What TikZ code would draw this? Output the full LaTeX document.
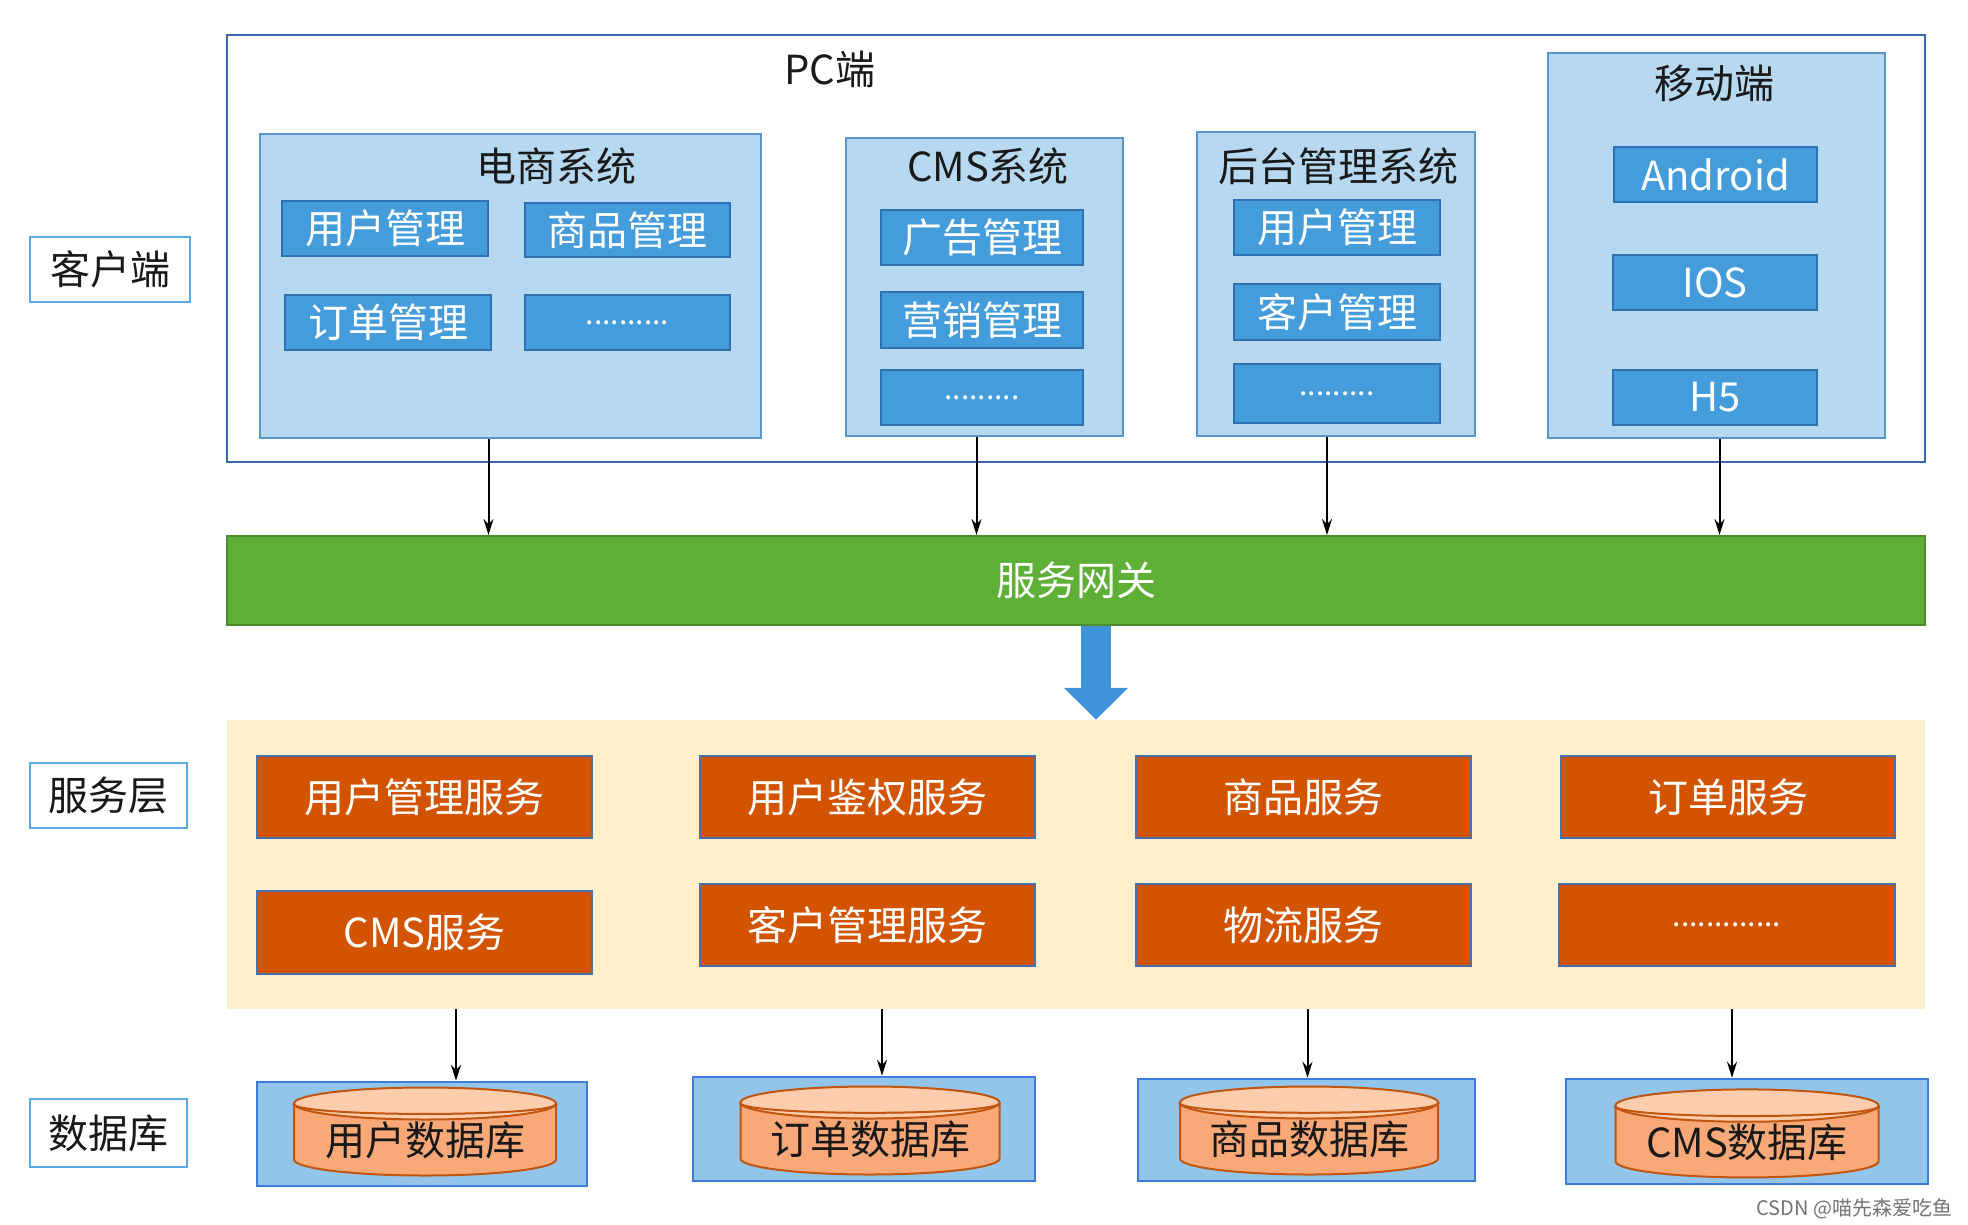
\documentclass[tikz,border=0pt]{standalone}
\usepackage{fontspec}
\setmainfont{Noto Sans CJK SC}
\usetikzlibrary{positioning, arrows.meta, calc, fit, shapes.geometric}

\definecolor{pcline}{HTML}{3C66B1}
\definecolor{labelline}{HTML}{5CA8E1}
\definecolor{panelfill}{HTML}{B6D8F1}
\definecolor{panelline}{HTML}{5B95CF}
\definecolor{modulefill}{HTML}{449CDB}
\definecolor{moduleline}{HTML}{2F72B2}
\definecolor{gatewayfill}{HTML}{5EAF36}
\definecolor{gatewayline}{HTML}{4C8C2C}
\definecolor{layerfill}{HTML}{FEF0CB}
\definecolor{servicefill}{HTML}{D35400}
\definecolor{serviceline}{HTML}{4670B0}
\definecolor{dbboxfill}{HTML}{93C4EA}
\definecolor{dbboxline}{HTML}{3E7ED8}
\definecolor{dbbody}{HTML}{F9A877}
\definecolor{dbtop}{HTML}{FDCDAD}
\definecolor{dbline}{HTML}{C0560F}
\definecolor{bigarrow}{HTML}{4193D9}

\newcommand{\dotfont}{\fontsize{30}{34}\selectfont}

\tikzset{
  big text/.style={font=\fontsize{40}{44}\selectfont},
  title/.style={big text, text=black!90},
  layer label/.style={draw=labelline, line width=2.5pt, fill=white, inner sep=0pt,
    label={[title]center:#1}},
  panel/.style={draw=panelline, line width=2.5pt, fill=panelfill, inner sep=0pt},
  module/.style={draw=moduleline, line width=2.5pt, fill=modulefill, inner sep=0pt,
    label={[big text, text=white]center:#1}},
  service/.style={draw=serviceline, line width=2pt, fill=servicefill, inner sep=0pt,
    label={[big text, text=white]center:#1}},
  dbbox/.style={draw=dbboxline, line width=2.5pt, fill=dbboxfill, inner sep=0pt},
  dbcyl/.style={cylinder, shape border rotate=90, aspect=0.16, draw=dbline, line width=2pt,
    cylinder uses custom fill, cylinder body fill=dbbody, cylinder end fill=dbtop,
    inner sep=0pt, big text, text=black!90, minimum height=88pt},
  conn/.style={-{Stealth[length=16pt, width=10pt]}, line width=2pt, black},
}

\begin{document}
\begin{tikzpicture}[x=1pt, y=-1pt]
  \useasboundingbox (0,0) rectangle (1968,1224);
  % Layer labels
  \node[layer label=客户端, fit={(30,237) (190,302)}] (client) {};
  \node[layer label=服务层, fit={(30,763) (187,828)}] (servicelabel) {};
  \node[layer label=数据库, fit={(30,1099) (187,1167)}] (dblabel) {};

  % Client side
  \node[draw=pcline, line width=2.5pt, inner sep=0pt, fit={(227,35) (1925,462)}] (pc) {};
  \node[title] (pctitle) at (830,69) {PC端};

  \node[panel, fit={(260,134) (761,438)}] (shop) {};
  \node[title] (shoptitle) at (556,166) {电商系统};
  \node[module=用户管理, fit={(282,201) (488,256)}] (shopuser) {};
  \node[module=商品管理, fit={(525,203) (730,257)}] (shopgoods) {};
  \node[module=订单管理, fit={(285,295) (491,350)}] (shoporder) {};
  \node[module={\dotfont ..........}, fit={(525,295) (730,350)}] (shopmore) {};

  \node[panel, fit={(846,138) (1123,436)}] (cms) {};
  \node[title] (cmstitle) at (988,166) {CMS系统};
  \node[module=广告管理, fit={(881,210) (1083,265)}] (cmsad) {};
  \node[module=营销管理, fit={(881,292) (1083,348)}] (cmsmarket) {};
  \node[module={\dotfont .........}, fit={(881,370) (1083,425)}] (cmsmore) {};

  \node[panel, fit={(1197,132) (1475,436)}] (admin) {};
  \node[title] (admintitle) at (1338,166) {后台管理系统};
  \node[module=用户管理, fit={(1234,200) (1440,255)}] (adminuser) {};
  \node[module=客户管理, fit={(1234,284) (1440,340)}] (admincustomer) {};
  \node[module={\dotfont .........}, fit={(1234,364) (1440,423)}] (adminmore) {};

  \node[panel, fit={(1548,53) (1885,438)}] (mobile) {};
  \node[title] (mobiletitle) at (1714,83) {移动端};
  \node[module=Android, fit={(1614,147) (1817,202)}] (android) {};
  \node[module=IOS, fit={(1613,255) (1817,310)}] (ios) {};
  \node[module=H5, fit={(1613,370) (1817,425)}] (hfive) {};

  % Gateway
  \node[draw=gatewayline, line width=2pt, fill=gatewayfill, inner sep=0pt,
    label={[big text, text=white]center:服务网关}, fit={(227,536) (1925,625)}] (gateway) {};

  \draw[conn] ([xshift=-22pt]shop.south) -- ([xshift=-22pt]shop.south |- gateway.north);
  \draw[conn] ([xshift=-8pt]cms.south) -- ([xshift=-8pt]cms.south |- gateway.north);
  \draw[conn] ([xshift=-9pt]admin.south) -- ([xshift=-9pt]admin.south |- gateway.north);
  \draw[conn] ([xshift=3pt]mobile.south) -- ([xshift=3pt]mobile.south |- gateway.north);

  % Services
  \node[fill=layerfill, inner sep=0pt, fit={(227,720) (1925,1009)}] (layer) {};
  \draw[bigarrow, line width=30pt, -{Triangle[length=32pt, width=62pt]}]
    ([xshift=20pt]gateway.south) -- ([xshift=20pt]gateway.south |- layer.north);

  \node[service=用户管理服务, fit={(257,756) (592,838)}] (usersvc) {};
  \node[service=用户鉴权服务, fit={(700,756) (1035,838)}] (authsvc) {};
  \node[service=商品服务, fit={(1136,756) (1471,838)}] (goodssvc) {};
  \node[service=订单服务, fit={(1561,756) (1895,838)}] (ordersvc) {};
  \node[service=CMS服务, fit={(257,891) (592,974)}] (cmssvc) {};
  \node[service=客户管理服务, fit={(700,884) (1035,966)}] (customersvc) {};
  \node[service=物流服务, fit={(1136,884) (1471,966)}] (logisticssvc) {};
  \node[service={\dotfont .............}, fit={(1559,884) (1895,966)}] (moresvc) {};

  % Databases
  \node[dbbox, fit={(257,1082) (587,1186)}] (userbox) {};
  \node[dbbox, fit={(693,1077) (1035,1181)}] (orderbox) {};
  \node[dbbox, fit={(1138,1079) (1475,1181)}] (goodsbox) {};
  \node[dbbox, fit={(1566,1079) (1928,1184)}] (cmsbox) {};

  \node[dbcyl, minimum width=262pt] (userdb) at (425,1140) {用户数据库};
  \node[dbcyl, minimum width=259pt] (orderdb) at (870,1139) {订单数据库};
  \node[dbcyl, minimum width=258pt] (goodsdb) at (1309,1139) {商品数据库};
  \node[dbcyl, minimum width=263pt] (cmsdb) at (1747,1142) {CMS数据库};
  \foreach \db in {userdb, orderdb, goodsdb, cmsdb}
    \draw[dbline, line width=2pt] (\db.before top) to[out=-90, in=-90, looseness=0.135] (\db.after top);

  \draw[conn] ([xshift=34pt]userbox.north |- layer.south) -- ([xshift=34pt]userbox.north);
  \draw[conn] ([xshift=18pt]orderbox.north |- layer.south) -- ([xshift=18pt]orderbox.north);
  \draw[conn] ([xshift=1pt]goodsbox.north |- layer.south) -- ([xshift=1pt]goodsbox.north);
  \draw[conn] ([xshift=-15pt]cmsbox.north |- layer.south) -- ([xshift=-15pt]cmsbox.north);

  \node[anchor=south east, text=black!55, font=\fontsize{20}{22}\selectfont] (credit) at (1956,1222) {CSDN @喵先森爱吃鱼};
\end{tikzpicture}
\end{document}
